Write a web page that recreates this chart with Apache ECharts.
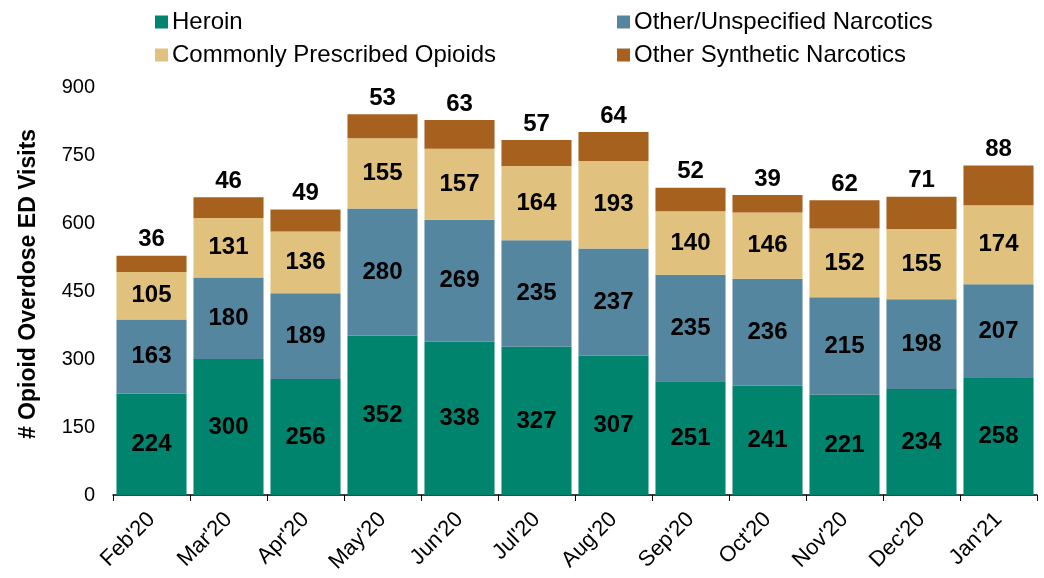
<!DOCTYPE html>
<html><head><meta charset="utf-8">
<script src="https://cdn.jsdelivr.net/npm/echarts@6/dist/echarts.min.js"></script>
<style>html,body{margin:0;padding:0;background:#fff}#c{width:1044px;height:578px}</style>
</head><body><div id="c"></div>
<script>
var categories = ["Feb'20","Mar'20","Apr'20","May'20","Jun'20","Jul'20","Aug'20","Sep'20","Oct'20","Nov'20","Dec'20","Jan'21"];
var heroin = [224,300,256,352,338,327,307,251,241,221,234,258];
var otherUnspecified = [163,180,189,280,269,235,237,235,236,215,198,207];
var commonlyPrescribed = [105,131,136,155,157,164,193,140,146,152,155,174];
var otherSynthetic = [36,46,49,53,63,57,64,52,39,62,71,88];
var yTicks = [0,150,300,450,600,750,900];

var font = "'Liberation Sans', Arial, sans-serif";
var colors = ['#00846E','#55869F','#E0C27E','#A6611E'];
function ser(name, data, color, pos) {
  return {
    name: name, type: 'bar', stack: 't', data: data, barCategoryGap: '9%',
    itemStyle: {color: color},
    label: {show: true, position: pos, color: '#000', fontWeight: 'bold', fontSize: 24, fontFamily: font, distance: 4}
  };
}
var chart = echarts.init(document.getElementById('c'));
chart.setOption({
  animation: false,
  grid: {left: 113, right: 7, top: 87, bottom: 83, containLabel: false, outerBoundsMode: 'none'},
  legend: [
    {orient: 'vertical', left: 150, top: 5, itemWidth: 13, itemHeight: 13, itemGap: 9, icon: 'rect',
     textStyle: {fontSize: 24, fontFamily: font, color: '#000', padding: [0,0,0,-1]},
     data: ['Heroin','Commonly Prescribed Opioids']},
    {orient: 'vertical', left: 612, top: 5, itemWidth: 13, itemHeight: 13, itemGap: 9, icon: 'rect',
     textStyle: {fontSize: 24, fontFamily: font, color: '#000', padding: [0,0,0,-1]},
     data: ['Other/Unspecified Narcotics','Other Synthetic Narcotics']}
  ],
  xAxis: {
    type: 'category', data: categories,
    axisLine: {lineStyle: {color: '#000', width: 1.5}},
    axisTick: {show: true, length: 6, lineStyle: {color: '#000'}},
    axisLabel: {rotate: 45, fontSize: 22, fontFamily: font, color: '#000', margin: 21}
  },
  yAxis: {
    type: 'value', min: yTicks[0], max: yTicks[yTicks.length-1], interval: 150,
    name: '# Opioid Overdose ED Visits', nameLocation: 'middle', nameGap: 73, nameRotate: 90,
    nameTextStyle: {fontSize: 23, fontWeight: 'bold', fontFamily: font, color: '#000', padding: [0,0,0,14]},
    axisLine: {show: false}, axisTick: {show: false}, splitLine: {show: false},
    axisLabel: {fontSize: 20, fontFamily: font, color: '#000', margin: 18}
  },
  series: [
    ser('Heroin', heroin, colors[0], 'inside'),
    ser('Other/Unspecified Narcotics', otherUnspecified, colors[1], 'inside'),
    ser('Commonly Prescribed Opioids', commonlyPrescribed, colors[2], 'inside'),
    ser('Other Synthetic Narcotics', otherSynthetic, colors[3], 'top')
  ]
});
</script></body></html>
